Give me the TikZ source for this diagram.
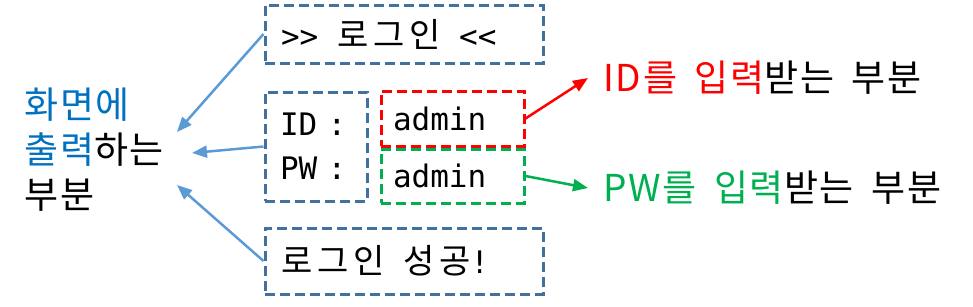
\documentclass[tikz,border=0pt]{standalone}
\usepackage{fontspec}
\usetikzlibrary{arrows.meta}
\setmainfont{Noto Sans CJK KR}[LetterSpace=5, WordSpace=1.7]
\newfontfamily\monofont{DejaVu Sans Mono}
\newfontfamily\hanmono{Noto Sans CJK KR}[LetterSpace=14]
\definecolor{boxblue}{RGB}{65,113,156}
\definecolor{arrowblue}{RGB}{91,155,213}
\definecolor{txtblue}{RGB}{0,112,192}
\definecolor{txtgreen}{RGB}{0,176,80}
\newcommand{\mo}[1]{{\monofont #1}}
\newcommand{\hm}[1]{{\fontsize{34}{44}\hanmono #1}}
\newcommand{\cell}{\hspace*{18.7pt}}
\tikzset{
  screenbox/.style={draw=boxblue, line width=3pt, dash pattern=on 10pt off 5pt,
    inner xsep=16pt, inner ysep=0pt, align=left, font=\fontsize{31}{44}\selectfont},
  explain/.style={font=\fontsize{37}{45}\selectfont, inner sep=0pt, align=left},
  pointer/.style={line width=2.5pt, -{Triangle[length=15pt,width=12pt]}}
}
\begin{document}
\begin{tikzpicture}[x=1pt, y=-1pt]
	\useasboundingbox (0,0) rectangle (973,306);
	
	% Screen boxes
	\node[screenbox, minimum width=278pt, minimum height=58pt, text width=246pt] (title) at (404,34) {\mo{>>}\cell\hm{로그인}\cell\mo{<<}};
	\node[screenbox, minimum width=102pt, minimum height=109pt, text width=72pt, inner xsep=15pt] (prompt) at (316,146.5) {\mo{ID :}\\\mo{PW :}};
	\node[screenbox, draw=red, minimum width=143pt, minimum height=55pt, text width=119pt, inner xsep=12pt] (idin) at (452.5,118.5) {\mo{admin}};
	\node[screenbox, draw=txtgreen, minimum width=143pt, minimum height=54pt, text width=119pt, inner xsep=12pt] (pwin) at (452.5,176) {\mo{admin}};
	\node[screenbox, minimum width=278pt, minimum height=66pt, text width=246pt] (done) at (404,261) {\hm{로그인}\cell\hm{성공}\mo{!}};
	
	% Explanations
	\node[explain, anchor=west] (outlab) at (24,150) {\textcolor{txtblue}{화면에}\\\textcolor{txtblue}{출력}하는\\부분};
	\node[explain, anchor=west, inner xsep=15pt] (idlab) at (588,78) {\textcolor{red}{ID를 입력}받는 부분};
	\node[explain, anchor=west, inner xsep=15pt] (pwlab) at (588,188) {\textcolor{txtgreen}{PW를 입력}받는 부분};
	
	% Tips of the pointers into the left label
	\coordinate (tipA) at (177,132);
	\coordinate (tipB) at (192,153);
	\coordinate (tipC) at (177,185);
	
	% Pointers
	\draw[pointer, arrowblue] (title.west) -- (tipA);
	\draw[pointer, arrowblue] (prompt.west) -- (tipB);
	\draw[pointer, arrowblue] (done.west) -- (tipC);
	\draw[pointer, red] (idin.east) -- (idlab.west);
	\draw[pointer, txtgreen] (pwin.east) -- (pwlab.west);
\end{tikzpicture}
\end{document}
